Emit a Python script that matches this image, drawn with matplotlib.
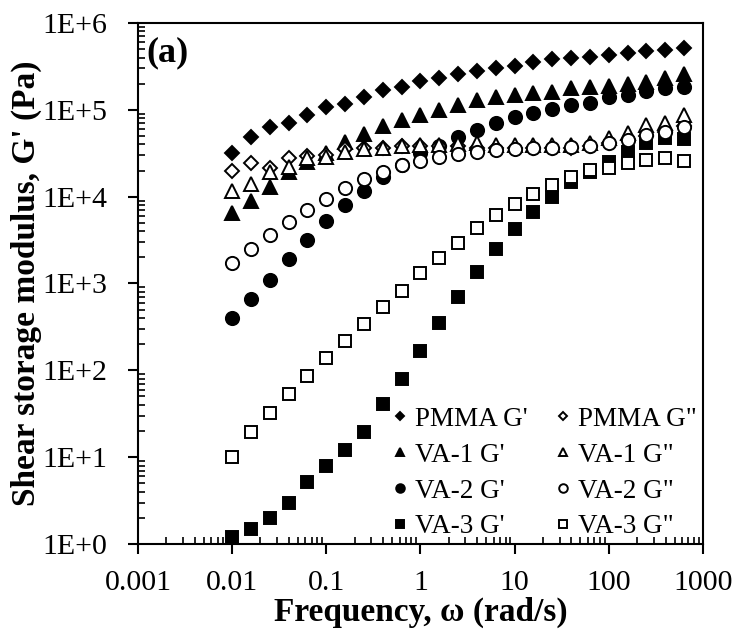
#!/usr/bin/env python3

import matplotlib
matplotlib.use("Agg")
import matplotlib.pyplot as plt
from matplotlib.ticker import LogLocator, FixedLocator, NullFormatter

# angular frequency (rad/s)
omega = [0.01, 0.0158, 0.0251, 0.0398, 0.0631, 0.1, 0.158, 0.251, 0.398, 0.631,
         1, 1.58, 2.51, 3.98, 6.31, 10, 15.8, 25.1, 39.8, 63.1,
         100, 158, 251, 398, 631]

pmma_g1 = [3.2e4, 4.9e4, 6.4e4, 7.0e4, 8.7e4, 1.09e5, 1.16e5, 1.42e5, 1.70e5, 1.82e5,
           2.16e5, 2.32e5, 2.60e5, 2.81e5, 3.02e5, 3.24e5, 3.6e5, 3.84e5, 3.94e5, 4.1e5,
           4.3e5, 4.5e5, 4.7e5, 4.9e5, 5.1e5]
pmma_g2 = [2.0e4, 2.43e4, 2.13e4, 2.77e4, 2.95e4, 3.0e4, 3.5e4, 3.6e4, 3.6e4, 3.8e4,
           3.8e4, 3.85e4, 3.8e4, 3.6e4, 3.6e4, 3.6e4, 3.65e4, 3.65e4, 3.65e4, 3.8e4,
           4.1e4, 4.5e4, 5.0e4, 5.6e4, 6.5e4]

va1_g1 = [6.5e3, 8.8e3, 1.29e4, 1.9e4, 2.5e4, 3.2e4, 4.3e4, 5.25e4, 6.5e4, 7.7e4,
          8.7e4, 1.0e5, 1.14e5, 1.3e5, 1.4e5, 1.49e5, 1.56e5, 1.62e5, 1.78e5, 1.83e5,
          1.89e5, 2.0e5, 2.1e5, 2.3e5, 2.6e5]
va1_g2 = [1.17e4, 1.39e4, 1.94e4, 2.2e4, 2.77e4, 2.9e4, 3.3e4, 3.5e4, 3.6e4, 3.8e4,
          3.95e4, 3.95e4, 4.0e4, 4.1e4, 3.95e4, 3.95e4, 3.95e4, 3.95e4, 3.95e4, 4.1e4,
          4.7e4, 5.4e4, 6.7e4, 7.0e4, 8.7e4]

va2_g1 = [400, 660, 1.1e3, 1.9e3, 3.2e3, 5.2e3, 8.0e3, 1.17e4, 1.7e4, 2.3e4,
          3.2e4, 3.8e4, 4.9e4, 5.9e4, 7.0e4, 8.2e4, 9.2e4, 1.02e5, 1.14e5, 1.21e5,
          1.42e5, 1.49e5, 1.63e5, 1.78e5, 1.82e5]
va2_g2 = [1.74e3, 2.5e3, 3.6e3, 5.1e3, 7.0e3, 9.5e3, 1.25e4, 1.59e4, 1.94e4, 2.3e4,
          2.58e4, 2.85e4, 3.1e4, 3.3e4, 3.46e4, 3.55e4, 3.6e4, 3.6e4, 3.7e4, 3.8e4,
          4.1e4, 4.5e4, 5.15e4, 5.6e4, 6.3e4]

va3_g1 = [1.19, 1.48, 1.98, 2.94, 5.2, 7.9, 12.1, 19.7, 40.7, 79.6,
          169, 355, 706, 1.37e3, 2.48e3, 4.2e3, 6.6e3, 1.0e4, 1.49e4, 1.94e4,
          2.54e4, 3.3e4, 4.1e4, 4.7e4, 4.6e4]
va3_g2 = [10.1, 19.3, 32.6, 53.5, 86, 138, 218, 340, 542, 829,
          1.31e3, 1.99e3, 2.96e3, 4.3e3, 6.2e3, 8.3e3, 1.08e4, 1.37e4, 1.68e4, 2.04e4,
          2.13e4, 2.43e4, 2.65e4, 2.82e4, 2.6e4]

x_ticks = [0.001, 0.01, 0.1, 1, 10, 100, 1000]
x_labels = ["0.001", "0.01", "0.1", "1", "10", "100", "1000"]
y_ticks = [1, 10, 100, 1e3, 1e4, 1e5, 1e6]
y_labels = ["1E+0", "1E+1", "1E+2", "1E+3", "1E+4", "1E+5", "1E+6"]

plt.rcParams["font.family"] = ["Liberation Serif", "DejaVu Serif"]

fig = plt.figure(figsize=(7.39, 6.34), dpi=100)
ax = fig.add_axes([0.1867, 0.142, 0.7646, 0.8217])

series = [
    ("PMMA G'", pmma_g1, "D", 7.0, "black"),
    ("VA-1 G'", va1_g1, "^", 9.5, "black"),
    ("VA-2 G'", va2_g1, "o", 9.5, "black"),
    ("VA-3 G'", va3_g1, "s", 8.0, "black"),
    ('PMMA G"', pmma_g2, "D", 7.0, "white"),
    ('VA-1 G"', va1_g2, "^", 9.5, "white"),
    ('VA-2 G"', va2_g2, "o", 9.5, "white"),
    ('VA-3 G"', va3_g2, "s", 8.0, "white"),
]

handles = []
for label, vals, mk, ms, fc in series:
    h, = ax.plot(omega, vals, linestyle="none", marker=mk, markersize=ms,
                 markerfacecolor=fc, markeredgecolor="black", markeredgewidth=1.4,
                 label=label)
    handles.append(h)

ax.set_xscale("log")
ax.set_yscale("log")
ax.set_xlim(0.001, 1000)
ax.set_ylim(1, 1e6)

ax.xaxis.set_major_locator(FixedLocator(x_ticks))
ax.set_xticklabels(x_labels)
ax.yaxis.set_major_locator(FixedLocator(y_ticks))
ax.set_yticklabels(y_labels)
ax.xaxis.set_minor_locator(LogLocator(base=10, subs=range(2, 10), numticks=20))
ax.yaxis.set_minor_locator(LogLocator(base=10, subs=range(2, 10), numticks=20))
ax.xaxis.set_minor_formatter(NullFormatter())
ax.yaxis.set_minor_formatter(NullFormatter())

ax.tick_params(axis="both", which="major", direction="out", length=7, width=1.5,
               labelsize=21.5)
ax.tick_params(axis="x", which="major", pad=12)
ax.tick_params(axis="y", which="major", pad=15)
ax.tick_params(axis="both", which="minor", direction="in", length=5, width=1.2)
for s in ax.spines.values():
    s.set_linewidth(1.5)

ax.set_xlabel("Frequency, ω (rad/s)", fontsize=24, fontweight="bold", labelpad=0)
ax.set_ylabel("Shear storage modulus, G' (Pa)", fontsize=24, fontweight="bold", labelpad=0)

ax.text(0.014, 0.975, "(a)", transform=ax.transAxes, fontsize=26, fontweight="bold",
        va="top", ha="left")

ax.legend(handles=handles, ncol=2, frameon=False, loc="lower right",
          bbox_to_anchor=(1.008, -0.012), fontsize=19.5, markerscale=0.65,
          handlelength=0.6, handletextpad=0.25, columnspacing=1.0,
          labelspacing=0.4, borderaxespad=0.0)

fig.savefig("out.png", dpi=100)
